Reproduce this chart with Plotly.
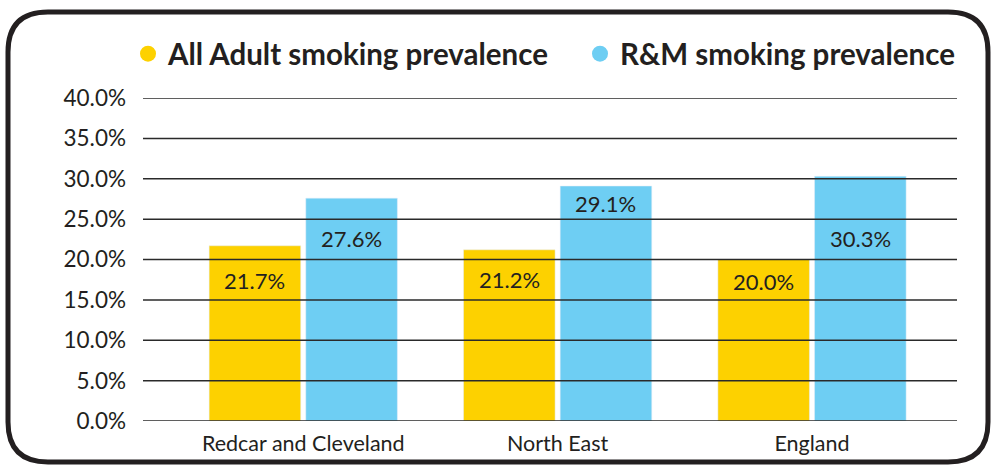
import plotly.graph_objects as go

categories = ["Redcar and Cleveland", "North East", "England"]
adult_values = [21.7, 21.2, 20.0]
rm_values = [27.6, 29.1, 30.3]
series_names = ["All Adult smoking prevalence", "R&M smoking prevalence"]
tick_values = [0, 5, 10, 15, 20, 25, 30, 35, 40]
tick_labels = ["0.0%", "5.0%", "10.0%", "15.0%", "20.0%", "25.0%", "30.0%", "35.0%", "40.0%"]

# style: vertical pixel offsets of the value labels below each bar top
adult_label_shift = [-35, -30, -21.5]
rm_label_shift = [-40, -17.5, -62.5]

YELLOW = "#FDD100"
BLUE = "#6ECEF3"
TEXT = "#231F20"
FONT = "Lato"

W, H = 991, 465
ML, MR, MT, MB = 143, 34, 98, 44
PW, PH = W - ML - MR, H - MT - MB

fig = go.Figure()
fig.add_trace(go.Bar(x=categories, y=adult_values, marker_color=YELLOW, width=0.36,
                     offset=-0.37, showlegend=False, hoverinfo="y"))
fig.add_trace(go.Bar(x=categories, y=rm_values, marker_color=BLUE, width=0.36,
                     offset=0.01, showlegend=False, hoverinfo="y"))

# legend entries with circle symbols
for name, col in zip(series_names, [YELLOW, BLUE]):
    fig.add_trace(go.Scatter(x=[None], y=[None], mode="markers", name=name,
                             marker=dict(symbol="circle", size=22, color=col)))

annotations = []
for i in range(len(categories)):
    for v, dx, sh in ((adult_values[i], -0.19, adult_label_shift[i]),
                      (rm_values[i], 0.19, rm_label_shift[i])):
        annotations.append(dict(x=i + dx, y=v, xref="x", yref="y", text=f"{v:.1f}%",
                                showarrow=False, yanchor="middle", yshift=sh,
                                font=dict(family=FONT, size=22, color=TEXT)))

shapes = []
for tv in tick_values:
    shapes.append(dict(type="line", xref="paper", yref="y", x0=0, x1=1, y0=tv, y1=tv,
                       line=dict(color="#2a2a2a", width=1.5), layer="above"))

# rounded border box (pixel coords -> paper)
def px(x):
    return (x - ML) / PW

def py(y):
    return (H - MB - y) / PH

x0b, x1b, y0b, y1b, rad = 8, 988, 12, 462, 40
pts = [
    ("M", [(x0b + rad, y0b)]),
    ("L", [(x1b - rad, y0b)]),
    ("Q", [(x1b, y0b), (x1b, y0b + rad)]),
    ("L", [(x1b, y1b - rad)]),
    ("Q", [(x1b, y1b), (x1b - rad, y1b)]),
    ("L", [(x0b + rad, y1b)]),
    ("Q", [(x0b, y1b), (x0b, y1b - rad)]),
    ("L", [(x0b, y0b + rad)]),
    ("Q", [(x0b, y0b), (x0b + rad, y0b)]),
]
path = ""
for cmd, ps in pts:
    path += cmd + " " + " ".join(f"{px(a):.5f},{py(b):.5f}" for a, b in ps) + " "
path += "Z"
shapes.append(dict(type="path", xref="paper", yref="paper", path=path,
                   line=dict(color="#231F20", width=5), layer="above"))

fig.update_layout(
    width=W, height=H,
    margin=dict(l=ML, r=MR, t=MT, b=MB, autoexpand=False),
    paper_bgcolor="white", plot_bgcolor="white",
    font=dict(family=FONT, color=TEXT),
    showlegend=True,
    legend=dict(orientation="h", x=(128 - ML) / PW, y=py(54), xanchor="left", yanchor="middle",
                font=dict(family=FONT, size=29.5, color=TEXT, weight="bold"),
                entrywidth=407, entrywidthmode="pixels",
                itemsizing="trace", bgcolor="rgba(0,0,0,0)", traceorder="normal"),
    xaxis=dict(type="category", range=[-0.63, 2.57], showgrid=False, zeroline=False,
               showline=False, ticks="", tickfont=dict(family=FONT, size=21.5, color=TEXT),
               ticklabelstandoff=7, fixedrange=True),
    yaxis=dict(range=[0, 40], tickvals=tick_values, ticktext=tick_labels, showgrid=False,
               zeroline=False, showline=False, ticks="", ticklabelstandoff=16,
               tickfont=dict(family=FONT, size=22.5, color=TEXT), fixedrange=True),
    annotations=annotations,
    shapes=shapes,
)

fig.write_html("out.html", config={"displayModeBar": False},
               post_script="document.body.style.margin='0';")
